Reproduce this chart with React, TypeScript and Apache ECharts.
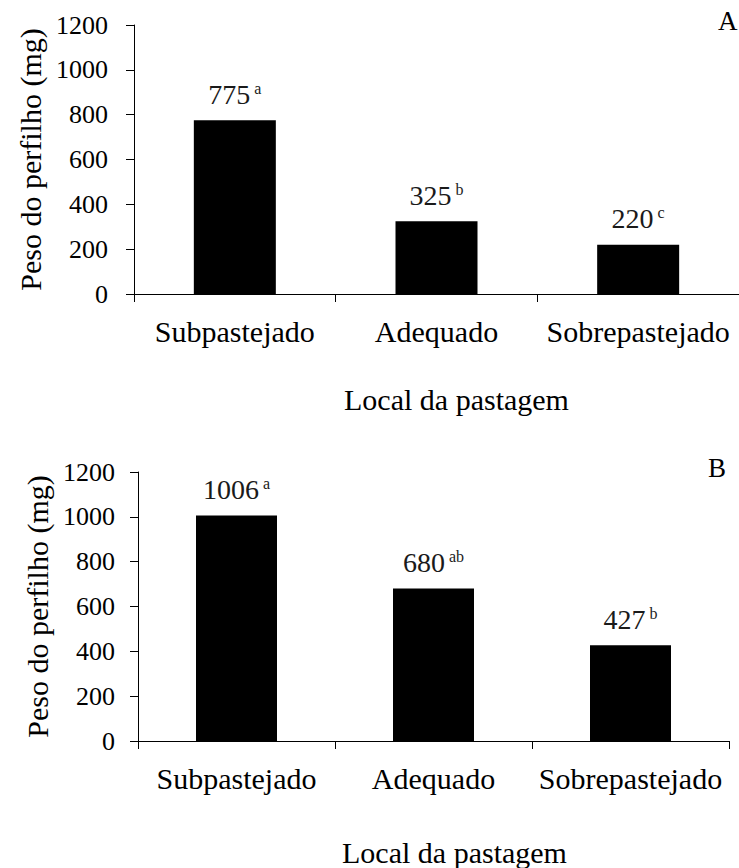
import React, { useEffect, useRef } from "react";
import * as echarts from "echarts";

const categories = ["Subpastejado", "Adequado", "Sobrepastejado"];
const valuesA = [775, 325, 220];
const lettersA = ["a", "b", "c"];
const valuesB = [1006, 680, 427];
const lettersB = ["a", "ab", "b"];
const yMin = 0;
const yMax = 1200;
const yStep = 200;
const yAxisTitle = "Peso do perfilho (mg)";
const xAxisTitle = "Local da pastagem";
const panelLetters = ["A", "B"];

const FONT = "Liberation Serif, Times New Roman, serif";

function makeSeries(values: number[], letters: string[], idx: number, barWidth: number) {
  return {
    type: "bar",
    xAxisIndex: idx,
    yAxisIndex: idx,
    barWidth,
    itemStyle: { color: "#000" },
    data: values,
    label: {
      show: true,
      position: "top",
      distance: 12,
      fontFamily: FONT,
      formatter: (p: any) => `{v|${values[p.dataIndex]}}{s|${letters[p.dataIndex]}}`,
      rich: {
        v: { fontFamily: FONT, fontSize: 28, color: "#1a1a1a" },
        s: { fontFamily: FONT, fontSize: 16, color: "#1a1a1a", verticalAlign: "top", padding: [0, 0, 0, 4] },
      },
    },
  };
}

function yAxis(idx: number, margin: number) {
  return {
    type: "value",
    gridIndex: idx,
    min: yMin,
    max: yMax,
    interval: yStep,
    name: yAxisTitle,
    nameLocation: "middle",
    nameGap: 86,
    nameTextStyle: { fontFamily: FONT, fontSize: 30, color: "#000" },
    axisLine: { show: true, lineStyle: { color: "#000", width: 1 } },
    axisTick: { show: true, length: 8, lineStyle: { color: "#000" } },
    splitLine: { show: false },
    axisLabel: {
      fontFamily: FONT,
      fontSize: 26,
      color: "#000",
      margin,
      formatter: (v: number) => String(v),
    },
  };
}

function xAxis(idx: number, nameGap: number, shift: number) {
  return {
    type: "category",
    gridIndex: idx,
    data: categories,
    name: xAxisTitle,
    nameLocation: "middle",
    nameGap,
    nameTextStyle: { fontFamily: FONT, fontSize: 30, color: "#000", padding: [0, 0, 0, shift] },
    axisLine: { show: true, lineStyle: { color: "#000", width: 1 } },
    axisTick: { show: true, length: 8, lineStyle: { color: "#000" } },
    axisLabel: { fontFamily: FONT, fontSize: 30, color: "#000", margin: 22, interval: 0 },
  };
}

export default function App() {
  const ref = useRef<HTMLDivElement>(null);
  useEffect(() => {
    if (!ref.current) return;
    const chart = echarts.init(ref.current, undefined, { renderer: "svg" });
    chart.setOption({
      animation: false,
      backgroundColor: "#fff",
      textStyle: { fontFamily: FONT },
      grid: [
        { left: 134, top: 25, width: 606, height: 269 },
        { left: 138, top: 472, width: 591, height: 276 },
      ],
      xAxis: [xAxis(0, 90, 40), xAxis(1, 96, 42)],
      yAxis: [yAxis(0, 26), yAxis(1, 23)],
      series: [makeSeries(valuesA, lettersA, 0, 82), makeSeries(valuesB, lettersB, 1, 81)],
      graphic: [
        {
          type: "text",
          left: 718,
          top: 7,
          style: { text: panelLetters[0], fontFamily: FONT, fontSize: 27, fill: "#000" },
        },
        {
          type: "text",
          left: 708,
          top: 454,
          style: { text: panelLetters[1], fontFamily: FONT, fontSize: 27, fill: "#000" },
        },
      ],
    });
    return () => chart.dispose();
  }, []);
  return (
    <div
      ref={ref}
      style={{ position: "absolute", left: 0, top: 0, width: 739, height: 868, background: "#fff" }}
    />
  );
}
